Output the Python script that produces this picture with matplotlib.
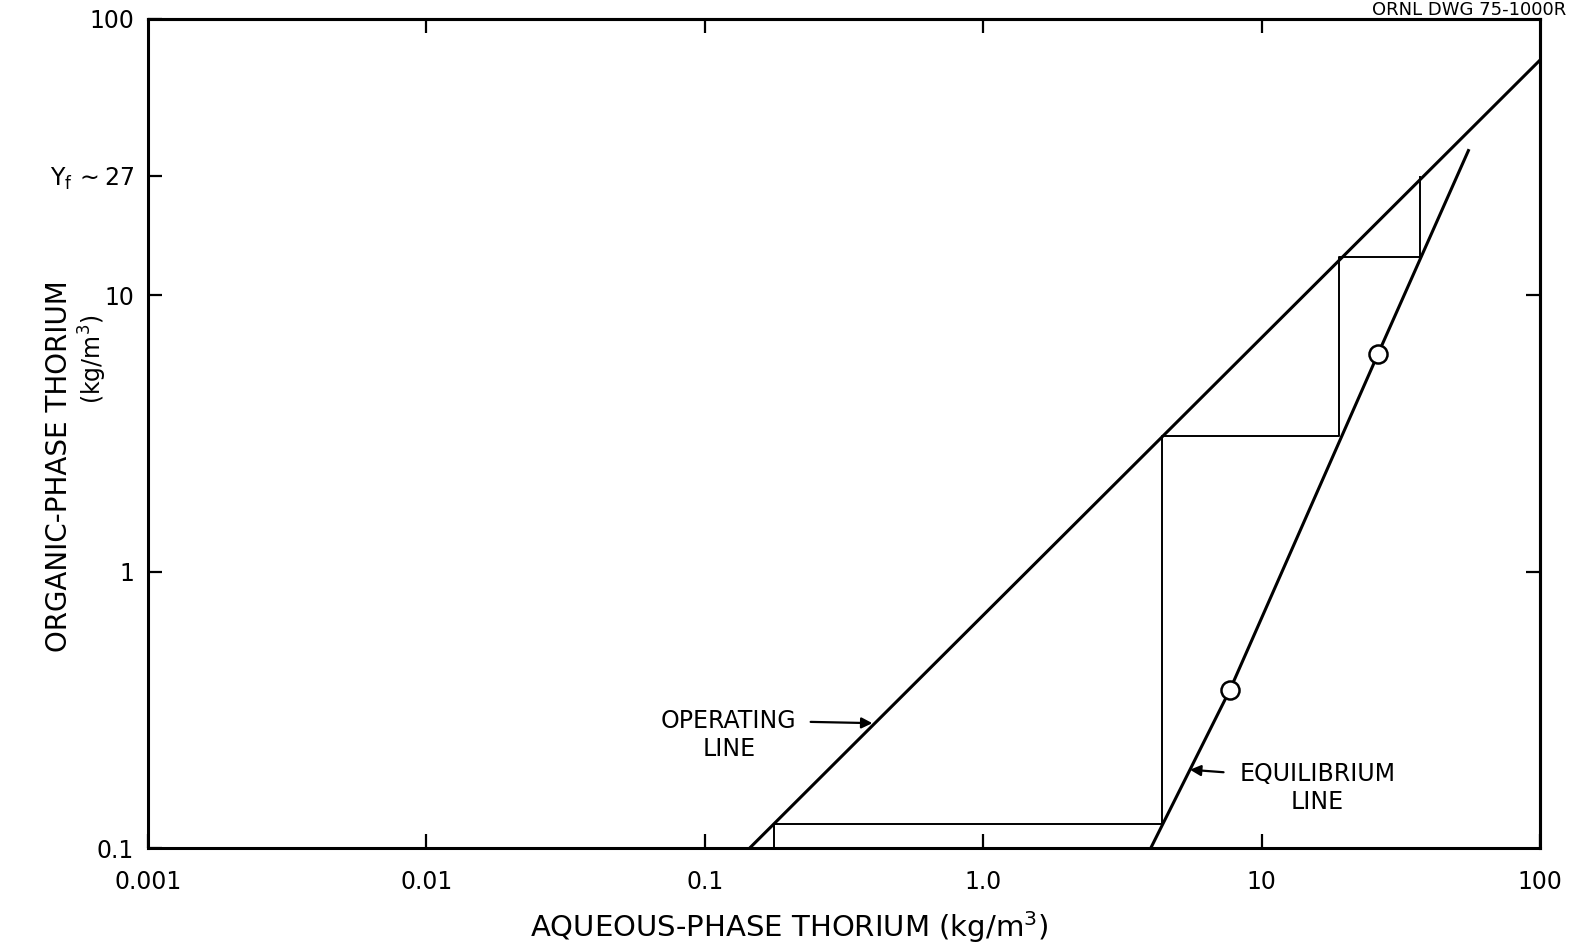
import matplotlib
matplotlib.use("Agg")
import matplotlib.pyplot as plt
from matplotlib.ticker import NullLocator

plt.rcParams['font.family'] = ['DejaVu Sans']
plt.rcParams['mathtext.fontset'] = 'dejavusans'

# Operating line (aqueous vs organic thorium, kg/m3)
op_x = [0.145, 100.0]
op_y = [0.1, 71.0]

# Equilibrium line
eq_x = [4.0, 7.7, 26.2, 55.6]
eq_y = [0.1, 0.374, 6.14, 33.8]

# Measured equilibrium points (circles)
pt_x = [7.7, 26.2]
pt_y = [0.374, 6.14]

# Stage stepping between the two lines, from Yf down
stair_x = [37.0, 37.0, 19.0, 19.0, 4.38, 4.38, 0.1775, 0.1775]
stair_y = [26.9, 13.76, 13.76, 3.11, 3.11, 0.122, 0.122, 0.1]

x_ticks = [0.001, 0.01, 0.1, 1.0, 10, 100]
x_labels = ["0.001", "0.01", "0.1", "1.0", "10", "100"]
y_ticks = [0.1, 1, 10, 27, 100]
y_labels = ["0.1", "1", "10", r"Y$_\mathregular{f}\,\sim$27", "100"]

fig = plt.figure(figsize=(15.81, 9.43), dpi=100)
ax = fig.add_axes([148 / 1581, 1 - 848 / 943, 1392 / 1581, 829 / 943])
ax.set_xscale('log')
ax.set_yscale('log')
ax.set_xlim(0.001, 100)
ax.set_ylim(0.1, 100)

ax.plot(op_x, op_y, color='black', lw=2.2, solid_capstyle='butt')
ax.plot(eq_x, eq_y, color='black', lw=2.2, solid_capstyle='butt')
ax.plot(stair_x, stair_y, color='black', lw=1.4)
ax.plot(pt_x, pt_y, linestyle='none', marker='o', ms=13, mfc='white',
        mec='black', mew=1.8, zorder=5)

# axis ticks
ax.set_xticks(x_ticks)
ax.set_xticklabels(x_labels)
ax.set_yticks(y_ticks)
ax.set_yticklabels(y_labels)
ax.xaxis.set_minor_locator(NullLocator())
ax.yaxis.set_minor_locator(NullLocator())
ax.tick_params(axis='both', direction='in', length=10, width=1.6, labelsize=17)
ax.tick_params(axis='x', pad=16)
ax.tick_params(axis='y', pad=10)
for sp in ax.spines.values():
    sp.set_linewidth(2.2)

top = ax.secondary_xaxis('top')
top.set_xticks([0.01, 0.1, 1.0, 10])
top.xaxis.set_minor_locator(NullLocator())
top.tick_params(direction='in', length=10, width=1.6, labeltop=False)
top.spines['top'].set_linewidth(2.2)

right = ax.secondary_yaxis('right')
right.set_yticks([1, 10])
right.yaxis.set_minor_locator(NullLocator())
right.tick_params(direction='in', length=10, width=1.6, labelright=False)
right.spines['right'].set_linewidth(2.2)

# axis labels
ax.set_xlabel("AQUEOUS-PHASE THORIUM (kg/m$^3$)", fontsize=21)
ax.xaxis.set_label_coords(0.4605, -0.074)
ax.xaxis.label.set_va('top')

ax.set_ylabel("ORGANIC-PHASE THORIUM", fontsize=20)
ax.yaxis.set_label_coords(-0.064, 0.461)
ax.yaxis.label.set_va('center')
ax.text(-0.0395, 0.59, "(kg/m$^3$)", transform=ax.transAxes, rotation=90,
        ha='center', va='center', fontsize=17)

# line annotations
ax.text(0.122, 0.256, "OPERATING\nLINE", ha='center', va='center',
        multialignment='center', fontsize=17, linespacing=1.2)
ax.annotate('', xy=(0.40, 0.283), xytext=(0.24, 0.286),
            arrowprops=dict(arrowstyle='-|>', color='black', lw=1.6,
                            mutation_scale=16, shrinkA=0, shrinkB=0))
ax.text(15.9, 0.165, "EQUILIBRIUM\nLINE", ha='center', va='center',
        multialignment='center', fontsize=17, linespacing=1.2)
ax.annotate('', xy=(5.53, 0.192), xytext=(7.3, 0.188),
            arrowprops=dict(arrowstyle='-|>', color='black', lw=1.6,
                            mutation_scale=16, shrinkA=0, shrinkB=0))

# drawing number at the top right corner
fig.text(1566 / 1581, 1 - 15 / 943, "ORNL DWG 75-1000R", ha='right',
         va='baseline', fontsize=13)

fig.savefig("out.png", dpi=100)
